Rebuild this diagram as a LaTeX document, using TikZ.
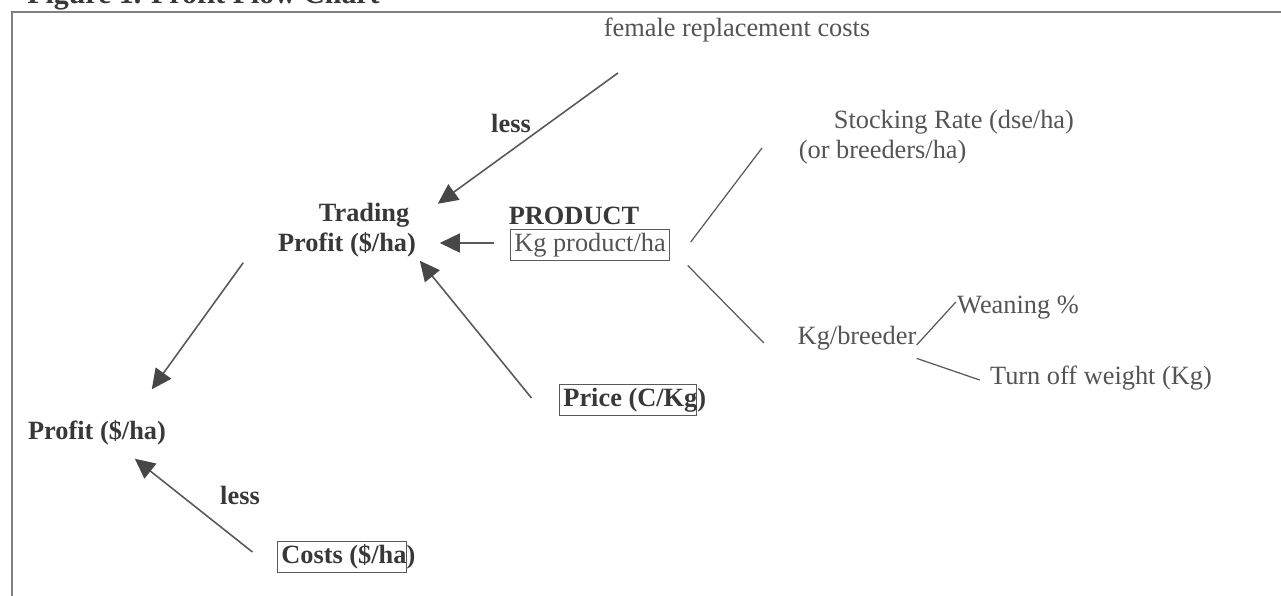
\documentclass[tikz,border=0pt]{standalone}
\usepackage{fontspec}
\setmainfont{Liberation Serif}
\usetikzlibrary{arrows.meta}

\definecolor{inkdark}{gray}{0.22}
\definecolor{inkgray}{gray}{0.33}
\definecolor{linegray}{gray}{0.35}

\tikzset{
  plaintxt/.style={inner sep=2pt, text=inkgray, font=\fontsize{15}{17}\selectfont},
  boldtxt/.style={inner sep=2pt, text=inkdark, font=\fontsize{15}{17}\selectfont\bfseries},
  boxtxt/.style={draw=linegray, line width=0.5pt},
  flow/.style={draw=linegray, line width=0.9pt, -{Triangle[length=0.4cm, width=0.38cm, color=black!72]}},
  link/.style={draw=linegray, line width=0.7pt},
}

\begin{document}
\begin{tikzpicture}[x=0.02cm, y=-0.02cm]
\useasboundingbox (0,0) rectangle (1281,595);
\clip (0,0) rectangle (1281,595);

% heading, cut by the top edge
\node[boldtxt, font=\fontsize{17}{19}\selectfont\bfseries, anchor=base west, inner sep=0pt] (title) at (27,4) {Figure 1. Profit Flow Chart};
\draw[black!50, line width=1.1pt] (1290,12) -- (12,12) -- (12,600);

% trading side
\node[plaintxt] (female) at (737,30) {female replacement costs};
\node[boldtxt] (lessa) at (511,123) {less};
\node[boldtxt, align=center] (trading) at (347,230) {\hspace*{1.3em}Trading\\Profit (\$/ha)};
\node[boldtxt] (product) at (574,216) {PRODUCT};
\node[plaintxt, boxtxt] (kgprod) at (590,245) {Kg product/ha};
\node[boldtxt, boxtxt] (price) at (628,400) {\makebox[4.9em][l]{Price (C/Kg)}};

% product drivers
\node[plaintxt, anchor=west] (stocking) at (830,122) {Stocking Rate (dse/ha)};
\node[plaintxt, anchor=west] (stockalt) at (795,152) {(or breeders/ha)};
\node[plaintxt] (kgbreeder) at (857,338) {Kg/breeder};
\node[plaintxt] (weaning) at (1018,308) {Weaning \%};
\node[plaintxt] (turnoff) at (1101,378) {Turn off weight (Kg)};

% profit side
\node[boldtxt] (profit) at (97,433) {Profit (\$/ha)};
\node[boldtxt] (lessb) at (240,495) {less};
\node[boldtxt, boxtxt] (costs) at (342,557) {\makebox[4.6em][l]{Costs (\$/ha)}};

% arrows
\draw[flow] ([shift={(-119,27)}]female.south) -- ([shift={(18,4.5)}]trading.north east);
\draw[flow] ([shift={(-16,-2)}]kgprod.west) -- ([shift={(20,13)}]trading.east);
\draw[flow] ([shift={(-28,-2)}]price.west) -- ([shift={(0,0)}]trading.south east);
\draw[flow] ([shift={(-31,2)}]trading.south west) -- ([shift={(-18,-27.5)}]profit.north east);
\draw[flow] ([shift={(-25,-5)}]costs.west) -- ([shift={(-35,9.5)}]profit.south east);

% plain links
\draw[link] ([shift={(21,-3)}]kgprod.east) -- ([shift={(-33,-4)}]stockalt.west);
\draw[link] ([shift={(18,4.5)}]kgprod.south east) -- ([shift={(-30,5)}]kgbreeder.west);
\draw[link] ([shift={(-3.5,7)}]kgbreeder.east) -- ([shift={(2.5,-6)}]weaning.west);
\draw[link] ([shift={(-3.5,4.5)}]kgbreeder.south east) -- ([shift={(-6.5,2)}]turnoff.west);
\end{tikzpicture}
\end{document}
